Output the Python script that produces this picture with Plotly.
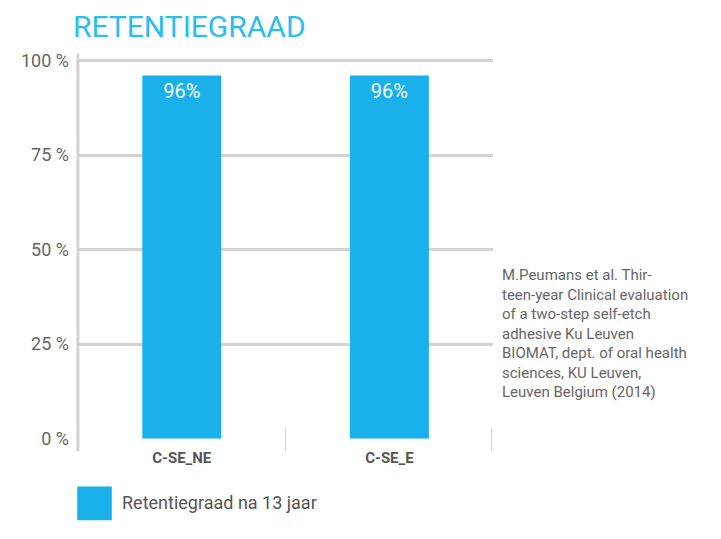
import plotly.graph_objects as go

categories = ["C-SE_NE", "C-SE_E"]
retention = [96, 96]
value_labels = ["96%", "96%"]
tick_vals = [0, 25, 50, 75, 100]
tick_text = ["0 %", "25 %", "50 %", "75 %", "100 %"]
series_name = "Retentiegraad na 13 jaar"
source_text = ("M.Peumans et al. Thir-<br>teen-year Clinical evaluation<br>of a two-step self-etch<br>"
               "adhesive Ku Leuven<br>BIOMAT, dept. of oral health<br>sciences, KU Leuven,<br>Leuven Belgium (2014)")

FONT = "Liberation Sans Narrow, Arial Narrow, Roboto, sans-serif"
BLUE = "#1ab0ea"
GRID = "#d3d3d3"

fig = go.Figure()
fig.add_trace(go.Bar(
    x=categories, y=retention, text=value_labels,
    textposition="inside", insidetextanchor="end",
    textfont=dict(color="white", size=20, family=FONT),
    marker=dict(color=BLUE, line=dict(width=0)),
    width=0.38, showlegend=False,
))

fig.update_layout(
    width=721, height=539,
    margin=dict(l=0, r=0, t=0, b=0),
    paper_bgcolor="white", plot_bgcolor="white",
    font=dict(family=FONT, color="#666666"),
    bargap=0.6,
)
fig.update_xaxes(domain=[0.097, 0.673], showgrid=False, zeroline=False,
                 showline=False, ticks="",
                 tickfont=dict(size=15, color="#555555", family=FONT),
                 tickvals=categories,
                 ticktext=["<b>%s</b>" % c for c in categories],
                 ticklabelstandoff=8)
fig.update_yaxes(domain=[0.189, 0.92], range=[0, 100.5], tickvals=tick_vals,
                 ticktext=tick_text, gridcolor=GRID, gridwidth=3,
                 zeroline=False, showline=False,
                 tickfont=dict(size=18, color="#666666", family=FONT),
                 ticklabelstandoff=8)

# left axis line and small category separator ticks
fig.add_shape(type="line", xref="paper", yref="paper", x0=0.097, x1=0.097,
              y0=0.165, y1=0.93, line=dict(color=GRID, width=3))
fig.add_shape(type="line", xref="paper", yref="paper", x0=0.385, x1=0.385,
              y0=0.165, y1=0.21, line=dict(color=GRID, width=1))
fig.add_shape(type="line", xref="paper", yref="paper", x0=0.671, x1=0.671,
              y0=0.165, y1=0.21, line=dict(color=GRID, width=1))

fig.add_annotation(text="RETENTIEGRAAD", xref="paper", yref="paper", x=0.088, y=1.02,
                   xanchor="left", yanchor="top", showarrow=False,
                   font=dict(size=30, color="#29bdf0", family=FONT))

fig.add_annotation(text=source_text, xref="paper", yref="paper", x=0.683, y=0.525,
                   xanchor="left", yanchor="top", align="left", showarrow=False,
                   font=dict(size=15, color="#666666", family=FONT))

# legend
fig.add_shape(type="rect", xref="paper", yref="paper", x0=0.096, x1=0.144,
              y0=0.032, y1=0.097, fillcolor=BLUE, line=dict(width=0))
fig.add_annotation(text=series_name, xref="paper", yref="paper", x=0.156, y=0.066,
                   xanchor="left", yanchor="middle", showarrow=False,
                   font=dict(size=18, color="#555555", family=FONT))

fig.write_html("out.html")
